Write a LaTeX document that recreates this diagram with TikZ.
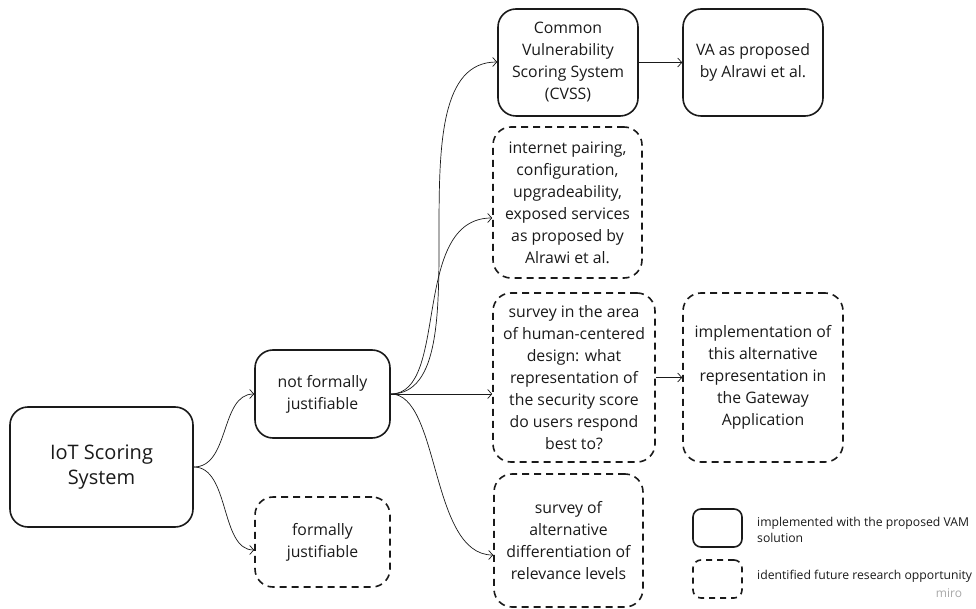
\documentclass[tikz,border=0pt]{standalone}
\usepackage{fontspec}
\setmainfont{Open Sans}
\usetikzlibrary{arrows.meta}
\definecolor{ink}{HTML}{1A1A1A}
\definecolor{brand}{HTML}{A8A8A8}

\begin{document}
\begin{tikzpicture}[x=1pt,y=-1pt,
  box/.style={draw=ink, line width=1.6pt, rounded corners=18pt, align=center,
    text=ink, inner sep=0pt, font=\fontsize{15.8}{22}\selectfont},
  solidbox/.style={box},
  dashbox/.style={box, dash pattern=on 7pt off 5pt},
  link/.style={draw=ink, line width=0.7pt, -{Straight Barb[length=4pt,width=9pt]}},
  keytext/.style={anchor=west, align=left, text=ink, inner sep=0pt,
    font=\fontsize{12.2}{15.5}\selectfont},
]
\useasboundingbox (0,0) rectangle (976,609);

% root and first level
\node[solidbox, minimum width=183pt, minimum height=120pt,
      font=\fontsize{20}{25}\selectfont] (iot) at (101.5,467) {IoT Scoring\\System};
\node[solidbox, minimum width=135pt, minimum height=88pt] (nfj) at (322.5,394)
  {not formally\\justifiable};
\node[dashbox, minimum width=135pt, minimum height=90pt] (fj) at (322.5,542)
  {formally\\justifiable};

% second level
\node[solidbox, minimum width=140pt, minimum height=107pt] (cvss) at (568,62.5)
  {Common\\Vulnerability\\Scoring System\\(CVSS)};
\node[solidbox, minimum width=140pt, minimum height=107pt] (va) at (753,62.5)
  {VA as proposed\\by Alrawi et al.};
\node[dashbox, minimum width=149pt, minimum height=151pt] (inet) at (567.5,202.5)
  {internet pairing,\\configuration,\\upgradeability,\\exposed services\\as proposed by\\Alrawi et al.};
\node[dashbox, minimum width=162pt, minimum height=169pt] (surv) at (574,377.5)
  {survey in the area\\of human-centered\\design: what\\representation of\\the security score\\do users respond\\best to?};
\node[dashbox, minimum width=160pt, minimum height=169pt] (impl) at (763,377.5)
  {implementation of\\this alternative\\representation in\\the Gateway\\Application};
\node[dashbox, minimum width=149pt, minimum height=133pt] (alt) at (568.5,540.5)
  {survey of\\alternative\\differentiation of\\relevance levels};

% connectors
\draw[link] (iot.east) .. controls (230,467) and (220,394) .. (nfj.west);
\draw[link] (iot.east) .. controls (230,467) and (220,550) .. ([yshift=-8pt]fj.west);
\draw[link] (nfj.east) .. controls (490,394) and (385,62) .. ([yshift=0.5pt]cvss.west);
\draw[link] (nfj.east) .. controls (450,394) and (410,218) .. ([yshift=-15.5pt]inet.west);
\draw[link] (nfj.east) -- (nfj.east -| surv.west);
\draw[link] (nfj.east) .. controls (440,394) and (430,555) .. ([yshift=-14.5pt]alt.west);
\draw[link] (cvss.east) -- (va.west);
\draw[link] (surv.east) -- (impl.west);

% legend
\node[solidbox, rounded corners=8pt, minimum width=49pt, minimum height=38pt] (keysolid) at (717.5,528) {};
\node[dashbox, rounded corners=8pt, dash pattern=on 6pt off 5pt, minimum width=49pt, minimum height=38pt] (keydash) at (717.5,579) {};
\node[keytext] (keysolidtext) at (757,530)
  {implemented with the proposed VAM\\solution};
\node[keytext] (keydashtext) at (757,576) {identified future research opportunity};
\node[text=brand, inner sep=0pt, font=\fontsize{12}{14}\selectfont] (brandmark) at (949,593) {miro};
\end{tikzpicture}
\end{document}
